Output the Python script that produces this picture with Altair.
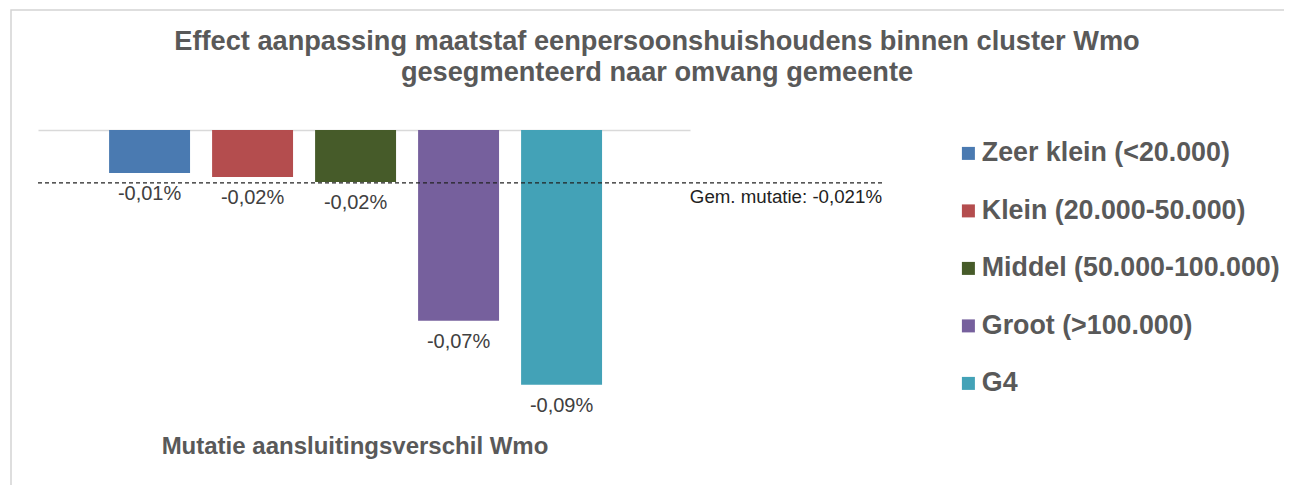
import altair as alt
import pandas as pd

categories = ["Zeer klein (<20.000)", "Klein (20.000-50.000)", "Middel (50.000-100.000)",
              "Groot (>100.000)", "G4"]
values = [-0.0152, -0.0166, -0.0184, -0.0674, -0.09]
value_labels = ["-0,01%", "-0,02%", "-0,02%", "-0,07%", "-0,09%"]
colors = ["#4a7ab1", "#b44d4e", "#465b29", "#76609d", "#43a2b7"]

avg_value = [-0.0187]
avg_label = ["Gem. mutatie: -0,021%"]

title_text = "Effect aanpassing maatstaf eenpersoonshuishoudens binnen cluster Wmo\ngesegmenteerd naar omvang gemeente"
axis_title = "Mutatie aansluitingsverschil Wmo"

FONT = "Liberation Sans"

df = pd.DataFrame({"cat": categories, "value": values, "label": value_labels})
avg_df = pd.DataFrame({"value": avg_value, "label": avg_label})
one = pd.DataFrame({"a": [0]})

x_enc = alt.X("cat:N", sort=categories,
              scale=alt.Scale(paddingInner=0.214, paddingOuter=0.772, align=0.447),
              axis=alt.Axis(orient="top", domain=True, domainColor="#d9d9d9", domainWidth=1.5,
                            labels=False, ticks=False, title=None, grid=False))
y_enc = alt.Y("value:Q", scale=alt.Scale(domain=[-0.1, 0], nice=False), axis=None)

bars = alt.Chart(df).mark_bar().encode(
    x=x_enc,
    y=y_enc,
    color=alt.Color("cat:N", sort=categories,
                    scale=alt.Scale(domain=categories, range=colors),
                    legend=alt.Legend(orient="none", legendX=917, legendY=10, title=None,
                                      symbolType="square", symbolSize=169, symbolStrokeWidth=0,
                                      labelFontSize=26.8, labelFontWeight="bold", labelColor="#595959",
                                      labelFont=FONT, rowPadding=29.5, padding=0, labelOffset=0,
                                      labelLimit=400)),
)

bar_text = alt.Chart(df).mark_text(dy=21, baseline="middle", fontSize=20, color="#404040", font=FONT).encode(
    x=alt.X("cat:N", sort=categories), y="value:Q", text="label:N")

avg_rule = alt.Chart(avg_df).mark_rule(strokeDash=[4, 3], color="#222222", strokeWidth=1.3).encode(
    y="value:Q", x=alt.value(0), x2=alt.value(847))

avg_text = alt.Chart(avg_df).mark_text(align="right", baseline="middle", dy=14, fontSize=18.7,
                                        color="#222222", font=FONT).encode(
    y="value:Q", x=alt.value(844), text="label:N")

title = alt.Chart(one).mark_text(align="center", baseline="middle", fontSize=27.2, fontWeight="bold",
                                 color="#595959", font=FONT, lineBreak="\n", lineHeight=31).encode(
    x=alt.value(619), y=alt.value(-88), text=alt.value(title_text))

xtitle = alt.Chart(one).mark_text(align="center", baseline="middle", fontSize=24, fontWeight="bold",
                                  color="#595959", font=FONT).encode(
    x=alt.value(317), y=alt.value(317), text=alt.value(axis_title))

border = alt.Chart(one).mark_rect(fillOpacity=0, stroke="#d4d4d4", strokeWidth=1.5).encode(
    x=alt.value(-27), x2=alt.value(1300), y=alt.value(-120), y2=alt.value(420))

chart = alt.layer(border, bars, bar_text, avg_rule, avg_text, title, xtitle).properties(
    width=652, height=283,
    background="white",
    autosize=alt.AutoSizeParams(type="none"),
    padding={"left": 30, "top": 122, "right": 594, "bottom": 72},
).configure_view(stroke="transparent", strokeWidth=0)

chart.save("out.html", embed_options={"renderer": "svg", "actions": False})
